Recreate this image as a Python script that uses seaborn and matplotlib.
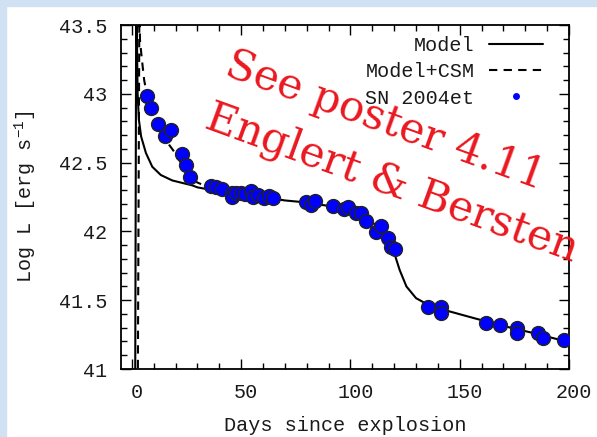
import numpy as np
import pandas as pd
import matplotlib
matplotlib.use("Agg")
import matplotlib.pyplot as plt
import matplotlib.transforms as mtransforms
import seaborn as sns
from matplotlib.lines import Line2D
from matplotlib.patches import Rectangle
from matplotlib.ticker import MultipleLocator

# ---- data ----
obs_days = [6.7, 8.9, 12.1, 15.0, 17.9, 22.9, 24.9, 26.7, 36.1, 38.4, 41.1, 46.0, 46.0, 47.8,
            49.9, 51.8, 54.4, 55.2, 57.9, 60.6, 62.5, 64.4, 79.7, 82.0, 83.9, 91.9, 97.2,
            98.8, 102.6, 104.9, 107.2, 111.5, 113.9, 117.3, 118.6, 120.5, 135.5, 141.4,
            141.6, 161.9, 168.3, 176.0, 176.0, 185.6, 187.9, 197.8]
obs_logL = [42.986, 42.900, 42.778, 42.695, 42.739, 42.562, 42.485, 42.398, 42.330, 42.325,
            42.306, 42.277, 42.252, 42.281, 42.277, 42.272, 42.296, 42.252, 42.265, 42.245,
            42.259, 42.241, 42.216, 42.192, 42.223, 42.187, 42.161, 42.180, 42.132, 42.132,
            42.072, 41.998, 42.041, 41.950, 41.890, 41.872, 41.451, 41.448, 41.405, 41.337,
            41.320, 41.296, 41.259, 41.259, 41.227, 41.211]

model_days = [1.5, 2.1, 2.3, 2.6, 3.2, 4.2, 6.4, 9.3, 13.2, 18.5, 27.5, 30, 35, 40, 50, 60,
              70, 80, 90, 100, 105, 108, 112, 116, 119, 120.5, 122.5, 125.6, 130, 134, 138,
              145, 153, 168, 184, 200]
model_logL = [40.9, 44.5, 43.4, 43.0, 42.81, 42.69, 42.57, 42.47, 42.41, 42.37, 42.335, 42.32,
              42.305, 42.29, 42.27, 42.25, 42.225, 42.21, 42.185, 42.14, 42.115, 42.09, 42.04,
              41.975, 41.88, 41.82, 41.72, 41.60, 41.515, 41.48, 41.455, 41.42, 41.385,
              41.32, 41.26, 41.195]

csm_days = [2.7, 3.4, 3.7, 4.3, 4.9, 5.6, 6.4, 7.5, 9.0, 11.0, 13.0, 15.0, 17.0, 19.3, 21.6,
            23.9, 25.8, 27.7, 30.0, 32.2, 35.0, 40.0]
csm_logL = [40.9, 43.6, 43.39, 43.29, 43.2, 43.1, 43.03, 42.95, 42.87, 42.79, 42.73, 42.68,
            42.63, 42.58, 42.52, 42.46, 42.41, 42.375, 42.355, 42.34, 42.315, 42.29]

legend_labels = ["Model", "Model+CSM", "SN 2004et"]
note_lines = ["See poster 4.11", "Englert & Bersten"]

obs = pd.DataFrame({"day": obs_days, "logL": obs_logL})
mod = pd.DataFrame({"day": model_days, "logL": model_logL})
csm = pd.DataFrame({"day": csm_days, "logL": csm_logL})

sns.set_theme(style="ticks")
plt.rcParams["font.family"] = ["Liberation Mono", "DejaVu Sans Mono"]
plt.rcParams["mathtext.fontset"] = "custom"
plt.rcParams["mathtext.rm"] = "Liberation Mono"

fig = plt.figure(figsize=(5.97, 4.37), dpi=100)
fig.patch.set_facecolor("white")
blue = "#cfe1f3"
fig.add_artist(Rectangle((0, 1 - 6 / 437), 1, 6 / 437, transform=fig.transFigure,
                         color=blue, zorder=-5))
fig.add_artist(Rectangle((0, 0), 6 / 597, 1, transform=fig.transFigure,
                         color=blue, zorder=-5))

ax = fig.add_axes([121 / 597, 1 - 369 / 437, 448 / 597, 344 / 437])
ax.set_facecolor("white")

sns.lineplot(data=csm, x="day", y="logL", ax=ax, color="black", lw=1.5,
             sort=False, estimator=None, zorder=2)
ax.lines[-1].set_linestyle((0, (4, 3)))
sns.lineplot(data=mod, x="day", y="logL", ax=ax, color="black", lw=1.5,
             sort=False, estimator=None, zorder=3)
sns.scatterplot(data=obs, x="day", y="logL", ax=ax, color="#0000ff", s=100,
                edgecolor="#222222", linewidth=1.0, zorder=4)

ax.set_xlim(-5, 200)
ax.set_ylim(41, 43.5)
ax.xaxis.set_major_locator(MultipleLocator(50))
ax.xaxis.set_minor_locator(MultipleLocator(10))
ax.yaxis.set_minor_locator(MultipleLocator(0.1))
ax.set_yticks([41, 41.5, 42, 42.5, 43, 43.5])
ax.set_yticklabels(["41", "41.5", "42", "42.5", "43", "43.5"])
ax.tick_params(which="both", direction="in", top=True, right=True, width=1.0,
               labelsize=14.5, colors="black", labelcolor="#1a1a1a")
ax.tick_params(which="major", length=7, pad=10)
ax.tick_params(which="minor", length=4)
for sp in ax.spines.values():
    sp.set_linewidth(1.3)
    sp.set_color("black")

# gnuplot-like slight right offset of x tick labels
offset = mtransforms.ScaledTranslation(5 / 100, 0, fig.dpi_scale_trans)
for lab in ax.get_xticklabels():
    lab.set_transform(lab.get_transform() + offset)

ax.set_xlabel("Days since explosion", fontsize=14.5, labelpad=10, color="#1a1a1a")
ax.set_ylabel("Log L [erg s$^{-1}$]", fontsize=14.5, labelpad=14, color="#1a1a1a")

handles = [Line2D([], [], color="black", lw=1.5),
           Line2D([], [], color="black", lw=1.5, linestyle=(0, (4, 3))),
           Line2D([], [], color="#0000ff", marker="o", ms=5, lw=0, markeredgewidth=0)]
leg = ax.legend(handles, legend_labels, loc="upper right", frameon=False, markerfirst=False,
                fontsize=14.5, handlelength=2.7, labelspacing=0.36, borderaxespad=0,
                borderpad=0, handletextpad=0.7, bbox_to_anchor=(0.942, 0.968))
for t in leg.get_texts():
    t.set_color("#1a1a1a")

note_pos = [(385 / 597, 1 - 121 / 437), (392 / 597, 1 - 183 / 437)]
for txt, (px, py) in zip(note_lines, note_pos):
    fig.text(px, py, txt, rotation=-20, fontsize=30.5, color="#ea1820",
             family="DejaVu Serif", ha="center", va="center", rotation_mode="anchor",
             zorder=10)

fig.savefig("out.png", dpi=100)
